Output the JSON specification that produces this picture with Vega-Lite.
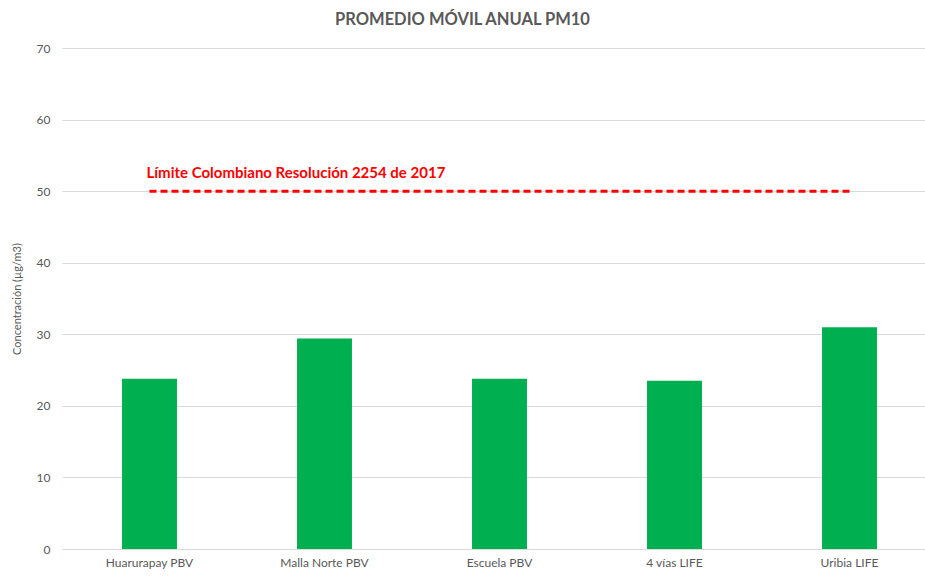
{
  "$schema": "https://vega.github.io/schema/vega-lite/v6.json",
  "width": 863,
  "height": 501,
  "autosize": {"type": "none"},
  "padding": {"left": 62, "top": 48, "right": 0, "bottom": 27},
  "background": "white",
  "title": {
    "text": "PROMEDIO MÓVIL ANUAL PM10",
    "font": "Lato",
    "fontSize": 16.5,
    "fontWeight": "bold",
    "color": "#595959",
    "anchor": "middle",
    "frame": "group",
    "dx": -31,
    "offset": 14
  },
  "config": {
    "view": {"stroke": null},
    "font": "Lato"
  },
  "datasets": {
    "bars": [
      {"estacion": "Huarurapay PBV", "valor": 23.8},
      {"estacion": "Malla Norte PBV", "valor": 29.4},
      {"estacion": "Escuela PBV", "valor": 23.8},
      {"estacion": "4 vías LIFE", "valor": 23.5},
      {"estacion": "Uribia LIFE", "valor": 31.0}
    ],
    "limite": [
      {"estacion": "Huarurapay PBV", "valor": 50, "texto": "Límite Colombiano Resolución 2254 de 2017"},
      {"estacion": "Uribia LIFE", "valor": 50, "texto": ""}
    ]
  },
  "layer": [
    {
      "data": {"name": "bars"},
      "mark": {"type": "bar", "color": "#00B050"},
      "encoding": {
        "x": {
          "field": "estacion",
          "type": "nominal",
          "sort": null,
          "scale": {"paddingInner": 0.686, "paddingOuter": 0.343, "range": [0, 875]},
          "axis": {
            "title": null,
            "labelAngle": 0,
            "labelFontSize": 12,
            "labelColor": "#595959",
            "labelPadding": 8,
            "ticks": false,
            "domainColor": "#d9d9d9",
            "grid": false
          }
        },
        "y": {
          "field": "valor",
          "type": "quantitative",
          "scale": {"domain": [0, 70], "nice": false},
          "axis": {
            "title": "Concentración (µg/m3)",
            "titleFontSize": 11,
            "titleFontWeight": "normal",
            "titleColor": "#595959",
            "titlePadding": 14,
            "values": [0, 10, 20, 30, 40, 50, 60, 70],
            "labelFontSize": 12,
            "labelColor": "#595959",
            "labelPadding": 12,
            "ticks": false,
            "domain": false,
            "gridColor": "#d9d9d9"
          }
        }
      }
    },
    {
      "data": {"name": "limite"},
      "mark": {"type": "line", "color": "#FF0000", "strokeWidth": 3, "strokeDash": [7, 4]},
      "encoding": {
        "x": {"field": "estacion", "type": "nominal", "sort": null},
        "y": {"field": "valor", "type": "quantitative"}
      }
    },
    {
      "data": {"name": "limite"},
      "mark": {"type": "text", "color": "#FF0000", "fontWeight": "bold", "fontSize": 15, "align": "left", "dx": -3, "dy": -18},
      "encoding": {
        "x": {"field": "estacion", "type": "nominal", "sort": null},
        "y": {"field": "valor", "type": "quantitative"},
        "text": {"field": "texto"}
      }
    }
  ]
}
